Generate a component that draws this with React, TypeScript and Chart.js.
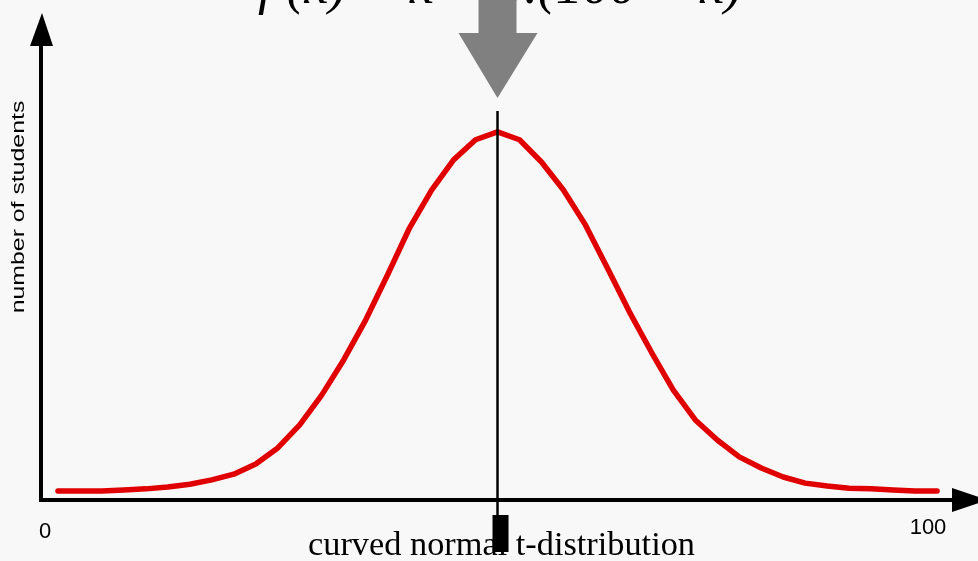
import React, { useEffect, useRef } from "react";
import { Chart, registerables } from "chart.js";

Chart.register(...registerables);

const scores = [0, 2.5, 5, 7.5, 10, 12.5, 15, 17.5, 20, 22.5, 25, 27.5, 30, 32.5, 35, 37.5, 40, 42.5, 45, 47.5, 50, 52.5, 55, 57.5, 60, 62.5, 65, 67.5, 70, 72.5, 75, 77.5, 80, 82.5, 85, 87.5, 90, 92.5, 95, 97.5, 100];
const students = [0, 0, 0, 0.3, 0.6, 1.1, 1.9, 3.1, 4.7, 7.5, 12, 18.4, 26.7, 36.5, 47.6, 60.2, 73.3, 83.8, 92.2, 97.8, 100, 97.8, 91.6, 83.8, 74.1, 62.1, 49.9, 38.7, 28.1, 19.8, 14.2, 9.5, 6.4, 3.9, 2.2, 1.4, 0.8, 0.6, 0.3, 0, 0];
const tickLabels = ["0", "100"];
const markerScore = 50;
const yTitle = "number of students";
const xTitle = "curved normal t-distribution";
const formula = "f (x) = x + 0.(100 − x)";

const overlay = {
  id: "overlay",
  beforeDraw(chart: any) {
    const ctx = chart.ctx;
    ctx.save();
    ctx.fillStyle = "#f8f8f8";
    ctx.fillRect(0, 0, chart.width, chart.height);
    // formula (mostly cut off at top)
    ctx.fillStyle = "#000";
    ctx.font = "italic 54px 'Liberation Serif', 'Times New Roman', serif";
    ctx.textBaseline = "alphabetic";
    ctx.textAlign = "left";
    ctx.fillText(formula, 258, 3);
    ctx.restore();
  },
  afterDatasetsDraw(chart: any) {
    const ctx = chart.ctx;
    const area = chart.chartArea;
    const xs = chart.scales.x;
    ctx.save();
    // axes
    ctx.strokeStyle = "#000";
    ctx.fillStyle = "#000";
    ctx.lineWidth = 4;
    ctx.beginPath();
    ctx.moveTo(area.left, area.bottom);
    ctx.lineTo(area.left, area.top + 30);
    ctx.moveTo(area.left - 2, area.bottom);
    ctx.lineTo(area.right, area.bottom);
    ctx.stroke();
    ctx.beginPath();
    ctx.moveTo(area.left + 1, area.top);
    ctx.lineTo(area.left + 12, area.top + 33);
    ctx.lineTo(area.left - 11, area.top + 33);
    ctx.closePath();
    ctx.fill();
    ctx.beginPath();
    ctx.moveTo(area.right, area.bottom - 12);
    ctx.lineTo(area.right + 36, area.bottom);
    ctx.lineTo(area.right, area.bottom + 12);
    ctx.closePath();
    ctx.fill();

    // marker line at mean
    const mx = xs.getPixelForValue(markerScore);
    ctx.lineWidth = 2.5;
    ctx.beginPath();
    ctx.moveTo(mx, 111);
    ctx.lineTo(mx, area.bottom + 15);
    ctx.stroke();
    ctx.fillRect(mx - 5, area.bottom + 15, 16, 37);

    // gray arrow
    ctx.fillStyle = "#808080";
    ctx.fillRect(mx - 19, 0, 38, 34);
    ctx.beginPath();
    ctx.moveTo(mx - 39, 33);
    ctx.lineTo(mx + 40, 33);
    ctx.lineTo(mx, 98);
    ctx.closePath();
    ctx.fill();

    // tick labels
    ctx.fillStyle = "#000";
    ctx.font = "22px 'Liberation Sans', Arial, sans-serif";
    ctx.textAlign = "center";
    ctx.textBaseline = "alphabetic";
    ctx.fillText(tickLabels[0], area.left + 4, area.bottom + 38);
    ctx.fillText(tickLabels[1], area.right - 24, area.bottom + 34);

    // x title
    ctx.save();
    ctx.translate(mx + 4, 555);
    ctx.scale(1.04, 1);
    ctx.font = "33px 'Liberation Serif', 'Times New Roman', serif";
    ctx.textAlign = "center";
    ctx.fillText(xTitle, 0, 0);
    ctx.restore();

    // y title
    ctx.save();
    ctx.translate(24, 207);
    ctx.rotate(-Math.PI / 2);
    ctx.scale(1.38, 1);
    ctx.font = "18px 'Liberation Sans', Arial, sans-serif";
    ctx.textAlign = "center";
    ctx.textBaseline = "alphabetic";
    ctx.fillText(yTitle, 0, 0);
    ctx.restore();

    ctx.restore();
  },
};

export default function App() {
  const ref = useRef<HTMLCanvasElement | null>(null);
  useEffect(() => {
    if (!ref.current) return;
    const chart = new Chart(ref.current, {
      type: "line",
      data: {
        datasets: [
          {
            data: scores.map((s, i) => ({ x: s, y: students[i] })),
            borderColor: "#e00000",
            borderWidth: 5.5,
            pointRadius: 0,
            tension: 0,
            fill: false,
            borderCapStyle: "round",
            borderJoinStyle: "round",
          },
        ],
      },
      options: {
        animation: false,
        responsive: false,
        maintainAspectRatio: false,
        layout: { padding: { left: 41, top: 13, right: 26, bottom: 61 } },
        plugins: { legend: { display: false }, tooltip: { enabled: false } },
        scales: {
          x: { type: "linear", min: -1.93, max: 101.7, display: false },
          y: { type: "linear", min: -2.5, max: 133.1, display: false },
        },
      },
      plugins: [overlay],
    });
    return () => chart.destroy();
  }, []);
  return (
    <div style={{ position: "fixed", left: 0, top: 0, width: 978, height: 561, background: "#f8f8f8" }}>
      <canvas ref={ref} width={978} height={561} style={{ display: "block", width: 978, height: 561 }} />
    </div>
  );
}
